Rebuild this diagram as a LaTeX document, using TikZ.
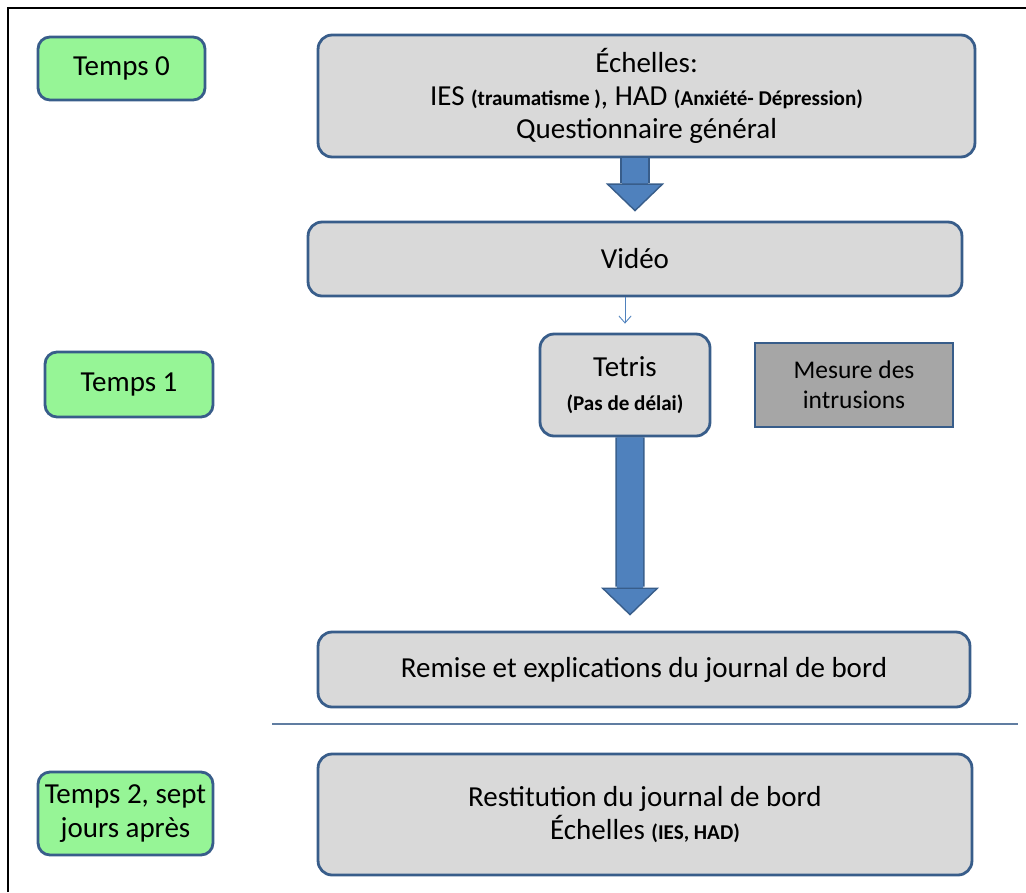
\documentclass[tikz,border=0pt]{standalone}
\usepackage{fontspec}
\setmainfont{Carlito}
\usetikzlibrary{arrows.meta,positioning}

\definecolor{bordblue}{RGB}{56,93,138}
\definecolor{arrblue}{RGB}{79,129,189}
\definecolor{tempsgreen}{RGB}{150,245,150}
\definecolor{boxgray}{RGB}{217,217,217}
\definecolor{mesgray}{RGB}{166,166,166}

\newcommand{\petit}[1]{{\fontsize{12}{14}\selectfont\bfseries #1}}

\begin{document}
\begin{tikzpicture}[x=0.02cm, y=-0.02cm, align=center, font=\fontsize{16.5}{19}\selectfont]
  \tikzstyle{temps} = [rectangle, draw=bordblue, line width=1.6pt, fill=tempsgreen, rounded corners=0.24cm, minimum height=1.26cm]
  \tikzstyle{block} = [rectangle, draw=bordblue, line width=1.6pt, fill=boxgray, rounded corners=0.28cm]
  \tikzstyle{bigarrow} = [line width=15pt, arrblue, -{Triangle[width=33pt, length=16pt, fill=arrblue, color=bordblue, line width=0.8pt]},
    preaction={draw=bordblue, line width=16.6pt, arrows=-, shorten >=16.5pt}]
  \tikzstyle{thinarrow} = [-{Straight Barb[length=4pt, width=7pt]}, arrblue, line width=0.5pt]

  \useasboundingbox (0,0) rectangle (1026,892);
  \draw[line width=1.2pt] (8,892) -- (8,8) -- (1026,8);

  % colonne des temps
  \node[temps, minimum width=3.34cm] (t0) at (121.5,68.5) {Temps 0};
  \node[temps, minimum width=3.36cm, minimum height=1.3cm] (t1) at (129,384.5) {Temps 1};
  \node[temps, minimum width=3.5cm, minimum height=1.66cm] (t2) at (125.5,813.5) {Temps 2, sept\\jours après};

  % etapes
  \node[block, minimum width=13.14cm, minimum height=2.44cm] (echelles) at (646.5,96)
    {Échelles:\\IES \petit{(traumatisme )}, HAD \petit{(Anxiété- Dépression)}\\Questionnaire général};
  \node[block, minimum width=13.08cm, minimum height=1.48cm] (video) at (635,259) {Vidéo};
  \node[block, minimum width=3.4cm, minimum height=2.04cm] (tetris) at (625,385) {Tetris\\\petit{(Pas de délai)}};
  \node[rectangle, draw=bordblue, line width=1.6pt, fill=mesgray, minimum width=3.96cm, minimum height=1.68cm,
    font=\fontsize{14.5}{17}\selectfont] (mesure) at (854,385) {Mesure des\\intrusions};
  \node[block, minimum width=13.04cm, minimum height=1.5cm] (remise) at (644,669.5) {Remise et explications du journal de bord};
  \node[block, minimum width=13.08cm, minimum height=2.42cm] (restit) at (645,814.5)
    {Restitution du journal de bord\\Échelles \petit{(IES, HAD)}};

  \draw[bordblue!80, line width=0.6pt] (272,724) -- (1018,724);

  \draw[bigarrow] (echelles.south -| video) -- ([yshift=0.18cm]video.north);
  \draw[thinarrow] (video.south -| tetris) -- ([yshift=0.18cm]tetris.north);
  \draw[bigarrow] ([xshift=0.1cm]tetris.south) -- ([xshift=-0.28cm, yshift=0.3cm]remise.north);
\end{tikzpicture}
\end{document}
